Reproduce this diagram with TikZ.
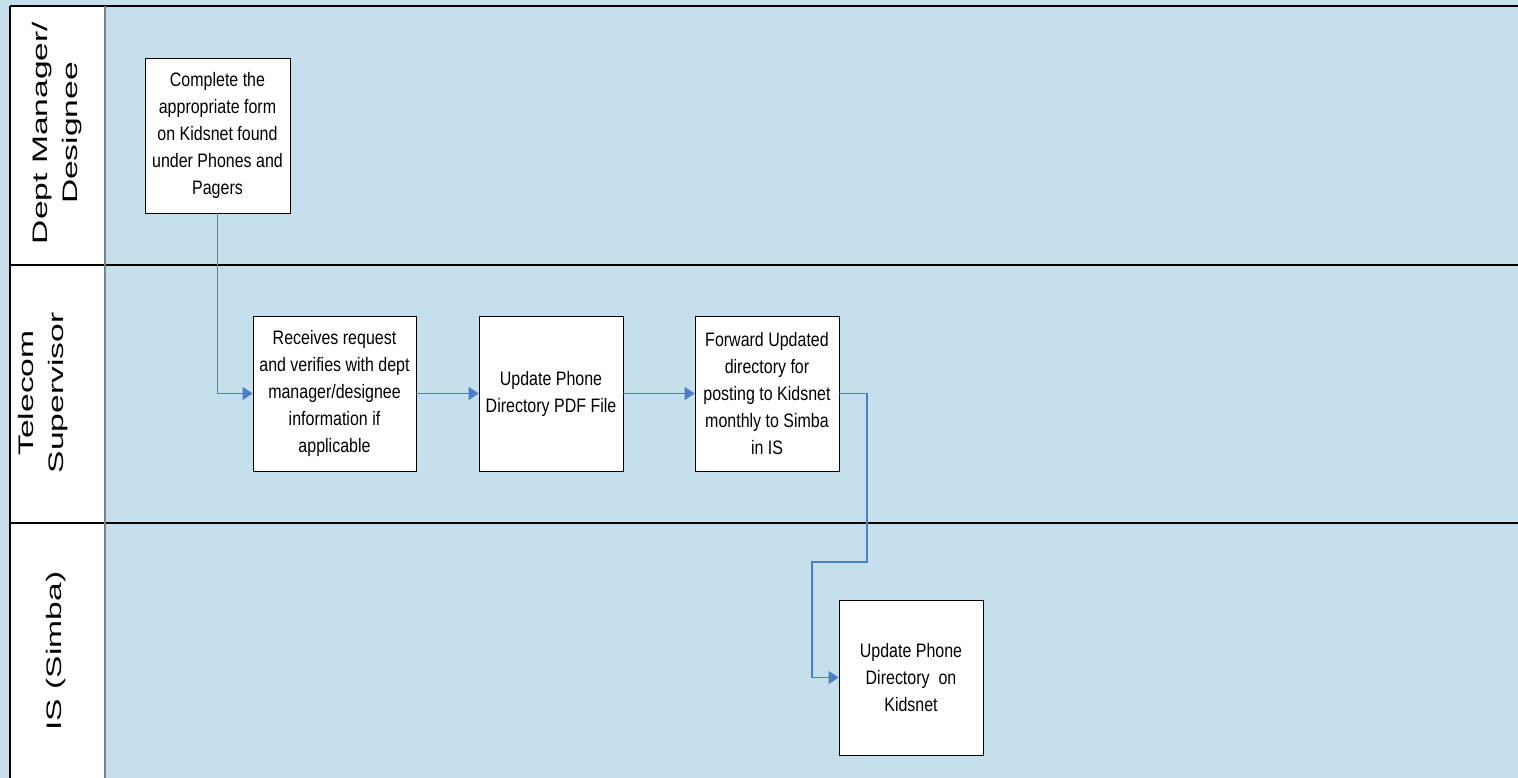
\documentclass[tikz,border=0pt]{standalone}
\usepackage{fontspec}
\setmainfont{Liberation Sans}
\newfontfamily\narrowfont[FakeStretch=0.82]{Liberation Sans}
\newfontfamily\lanefont[FakeStretch=1.6]{Liberation Sans}
\usetikzlibrary{arrows.meta}
\definecolor{lanebg}{RGB}{197,224,236}
\definecolor{flowblue}{RGB}{74,126,199}
\definecolor{sepgray}{RGB}{128,128,128}
\begin{document}
\begin{tikzpicture}[x=1pt,y=-1pt,
  stepbox/.style={draw=black, line width=0.9pt, fill=white, minimum height=155pt,
    align=center, inner sep=0pt, font=\narrowfont\fontsize{19.5}{27}\selectfont},
  flow/.style={draw=flowblue, line width=1.1pt, -{Triangle[length=10pt,width=13pt]}},
  lanelabel/.style={rotate=90, align=center, inner sep=0pt,
    font=\lanefont\fontsize{21}{30}\selectfont},
  laneline/.style={draw=black, line width=2pt}]
\useasboundingbox (0,0) rectangle (1518,778);
\fill[lanebg] (0,0) rectangle (1518,778);
% label column
\fill[white] (10,6.5) rectangle (105,778);
\draw[laneline] (10,6.5) -- (1518,6.5);
\draw[laneline] (10,265) -- (1518,265);
\draw[laneline] (10,522.5) -- (1518,522.5);
\draw[draw=black, line width=1.5pt] (10,6.5) -- (10,778);
\draw[draw=sepgray, line width=2pt] (105,6.5) -- (105,778);
% lane labels
\node[lanelabel] (l1) at (57,133) {Dept Manager/\\Designee};
\node[lanelabel] (l2) at (43,393) {Telecom\\Supervisor};
\node[lanelabel] (l3) at (56,651) {IS (Simba)};
% steps
\node[stepbox, minimum width=145pt] (b1) at (217.5,135.5)
  {Complete the\\appropriate form\\on Kidsnet found\\under Phones and\\Pagers};
\node[stepbox, minimum width=163pt] (b2) at (334.5,393.5)
  {Receives request\\and verifies with dept\\manager/designee\\information if\\applicable};
\node[stepbox, minimum width=144pt] (b3) at (551,393.5)
  {Update Phone\\Directory PDF File};
\node[stepbox, minimum width=144pt] (b4) at (767,393.5)
  {Forward Updated\\directory for\\posting to Kidsnet\\monthly to Simba\\in IS};
\node[stepbox, minimum width=144pt] (b5) at (911,677.5)
  {Update Phone\\Directory\ \ on\\Kidsnet};
% connectors
\coordinate (j1) at (867,562);
\coordinate (j2) at (812,677.5);
\draw[flow] (b1.south) |- (b2.west);
\draw[flow] (b2.east) -- (b3.west);
\draw[flow] (b3.east) -- (b4.west);
\draw[flow] (b4.east) -| (j1) -| (j2) -- (b5.west);
\end{tikzpicture}
\end{document}
